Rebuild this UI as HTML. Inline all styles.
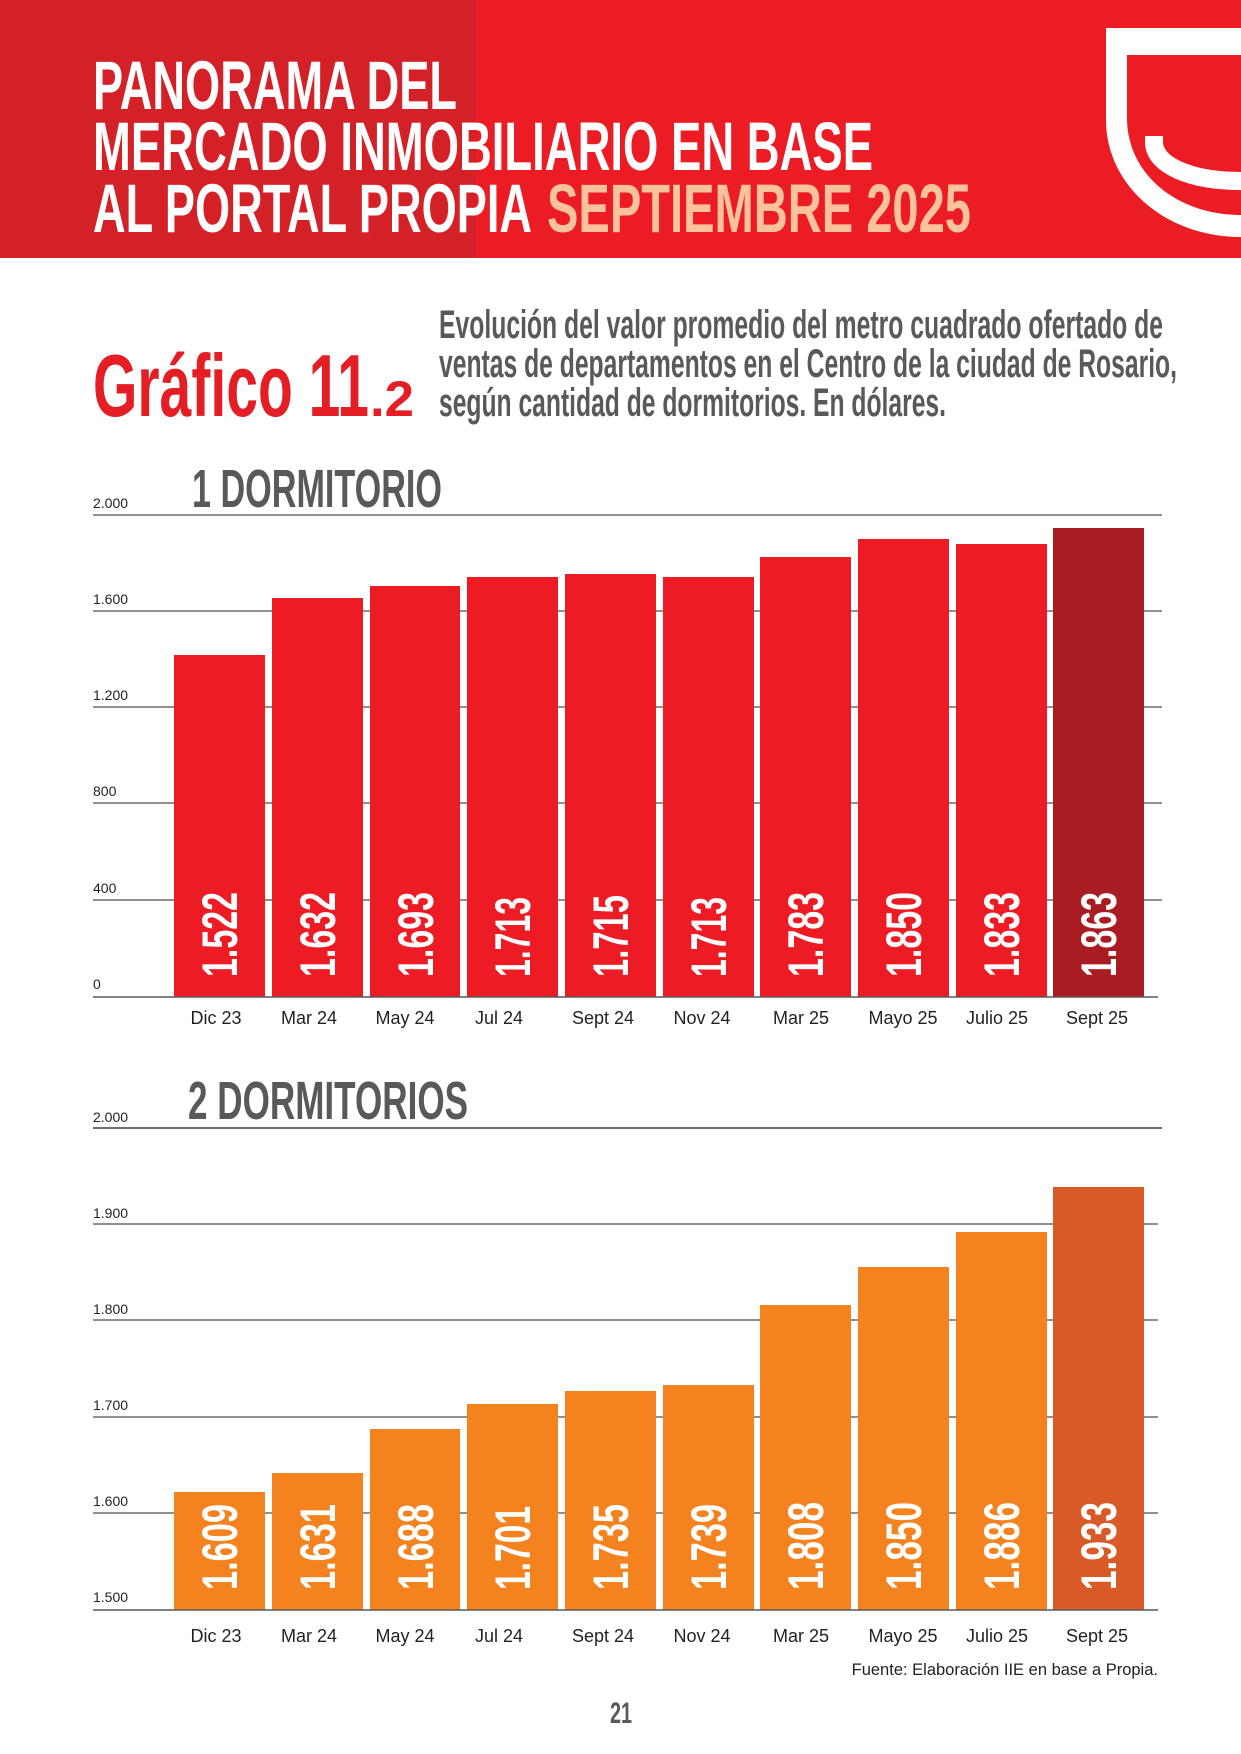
<!DOCTYPE html>
<html><head><meta charset="utf-8"><style>
html,body{margin:0;padding:0;background:#fff;}
svg{display:block;}
.t{font-family:"Liberation Sans",sans-serif;font-weight:bold;}
.ax{font-family:"Liberation Sans",sans-serif;font-size:14px;fill:#231f20;}
.xl{font-family:"Liberation Sans",sans-serif;font-size:18px;fill:#231f20;text-anchor:middle;}
.v{font-family:"Liberation Sans",sans-serif;font-weight:bold;font-size:50px;fill:#fff;}
</style></head><body>
<svg width="1241" height="1754" viewBox="0 0 1241 1754" xmlns="http://www.w3.org/2000/svg">
<rect x="0" y="0" width="1241" height="258" fill="#ec1c24"/>
<rect x="0" y="0" width="476" height="258" fill="#d42027"/>
<!-- logo -->
<path d="M1106 28 L1241 28 L1241 237 C1165 237 1106 185 1106 120 Z" fill="#fff"/>
<path d="M1127 55 L1241 55 L1241 215 C1178 215 1127 175 1127 118 Z" fill="#ec1c24"/>
<path d="M1154 136 L1154 142 C1154 165 1190 181 1241 181" fill="none" stroke="#fff" stroke-width="18"/>
<!-- title -->
<text class="t" x="93" y="109" font-size="69" fill="#fff" textLength="364" lengthAdjust="spacingAndGlyphs">PANORAMA DEL</text>
<text class="t" x="93" y="170" font-size="69" fill="#fff" textLength="780" lengthAdjust="spacingAndGlyphs">MERCADO INMOBILIARIO EN BASE</text>
<text class="t" x="93" y="232" font-size="69" fill="#fff" textLength="439" lengthAdjust="spacingAndGlyphs">AL PORTAL PROPIA</text>
<text class="t" x="547" y="232" font-size="69" fill="#fbc29c" textLength="424" lengthAdjust="spacingAndGlyphs">SEPTIEMBRE 2025</text>
<!-- grafico -->
<text class="t" x="93" y="416" font-size="88" fill="#e31e24" textLength="276" lengthAdjust="spacingAndGlyphs">Gráfico 11</text>
<text class="t" x="370" y="416" font-size="50" fill="#e31e24" textLength="44" lengthAdjust="spacingAndGlyphs">.2</text>
<text class="t" x="439" y="338" font-size="40" fill="#58595b" textLength="724" lengthAdjust="spacingAndGlyphs">Evolución del valor promedio del metro cuadrado ofertado de</text>
<text class="t" x="439" y="377" font-size="40" fill="#58595b" textLength="738" lengthAdjust="spacingAndGlyphs">ventas de departamentos en el Centro de la ciudad de Rosario,</text>
<text class="t" x="439" y="416" font-size="40" fill="#58595b" textLength="507" lengthAdjust="spacingAndGlyphs">según cantidad de dormitorios. En dólares.</text>

<!-- chart 1 -->
<text class="t" x="192" y="507" font-size="54" fill="#58595b" textLength="250" lengthAdjust="spacingAndGlyphs">1 DORMITORIO</text>
<g stroke="#231f20" stroke-width="1">
<line x1="93" y1="515" x2="1162" y2="515"/>
<line x1="93" y1="611" x2="1162" y2="611"/>
<line x1="93" y1="707" x2="1162" y2="707"/>
<line x1="93" y1="803" x2="1162" y2="803"/>
<line x1="93" y1="900" x2="1162" y2="900"/>
</g>
<text class="ax" x="93" y="508">2.000</text>
<text class="ax" x="93" y="604">1.600</text>
<text class="ax" x="93" y="700">1.200</text>
<text class="ax" x="93" y="796">800</text>
<text class="ax" x="93" y="893">400</text>
<text class="ax" x="93" y="989">0</text>
<g fill="#ed1c24">
<rect x="174" y="655" width="91" height="342"/>
<rect x="272" y="598" width="91" height="399"/>
<rect x="370" y="586" width="90" height="411"/>
<rect x="467" y="577" width="91" height="420"/>
<rect x="565" y="574" width="91" height="423"/>
<rect x="663" y="577" width="91" height="420"/>
<rect x="760" y="557" width="91" height="440"/>
<rect x="858" y="539" width="91" height="458"/>
<rect x="956" y="544" width="91" height="453"/>
</g>
<rect x="1053" y="528" width="91" height="469" fill="#a91d22"/>
<line x1="93" y1="997" x2="1158" y2="997" stroke="#58595b" stroke-width="1.5"/>
<g>
<text class="v" transform="translate(237,977) rotate(-90)" textLength="85" lengthAdjust="spacingAndGlyphs">1.522</text>
<text class="v" transform="translate(335,977) rotate(-90)" textLength="85" lengthAdjust="spacingAndGlyphs">1.632</text>
<text class="v" transform="translate(433,977) rotate(-90)" textLength="85" lengthAdjust="spacingAndGlyphs">1.693</text>
<text class="v" transform="translate(530,977) rotate(-90)" textLength="80" lengthAdjust="spacingAndGlyphs">1.713</text>
<text class="v" transform="translate(628,977) rotate(-90)" textLength="82" lengthAdjust="spacingAndGlyphs">1.715</text>
<text class="v" transform="translate(726,977) rotate(-90)" textLength="80" lengthAdjust="spacingAndGlyphs">1.713</text>
<text class="v" transform="translate(823,977) rotate(-90)" textLength="85" lengthAdjust="spacingAndGlyphs">1.783</text>
<text class="v" transform="translate(921,977) rotate(-90)" textLength="85" lengthAdjust="spacingAndGlyphs">1.850</text>
<text class="v" transform="translate(1019,977) rotate(-90)" textLength="85" lengthAdjust="spacingAndGlyphs">1.833</text>
<text class="v" transform="translate(1116,977) rotate(-90)" textLength="85" lengthAdjust="spacingAndGlyphs">1.863</text>
</g>
<text class="xl" x="216" y="1024">Dic 23</text>
<text class="xl" x="309" y="1024">Mar 24</text>
<text class="xl" x="405" y="1024">May 24</text>
<text class="xl" x="499" y="1024">Jul 24</text>
<text class="xl" x="603" y="1024">Sept 24</text>
<text class="xl" x="702" y="1024">Nov 24</text>
<text class="xl" x="801" y="1024">Mar 25</text>
<text class="xl" x="903" y="1024">Mayo 25</text>
<text class="xl" x="997" y="1024">Julio 25</text>
<text class="xl" x="1097" y="1024">Sept 25</text>

<!-- chart 2 -->
<text class="t" x="188" y="1119" font-size="54" fill="#58595b" textLength="280" lengthAdjust="spacingAndGlyphs">2 DORMITORIOS</text>
<line x1="93" y1="1128" x2="1162" y2="1128" stroke="#6d6e71" stroke-width="2"/>
<g stroke="#231f20" stroke-width="1">
<line x1="93" y1="1224" x2="1158" y2="1224"/>
<line x1="93" y1="1320" x2="1158" y2="1320"/>
<line x1="93" y1="1417" x2="1158" y2="1417"/>
<line x1="93" y1="1513" x2="1158" y2="1513"/>
</g>
<text class="ax" x="93" y="1122">2.000</text>
<text class="ax" x="93" y="1218">1.900</text>
<text class="ax" x="93" y="1314">1.800</text>
<text class="ax" x="93" y="1410">1.700</text>
<text class="ax" x="93" y="1506">1.600</text>
<text class="ax" x="93" y="1602">1.500</text>
<g fill="#f4821f">
<rect x="174" y="1492" width="91" height="118"/>
<rect x="272" y="1473" width="91" height="137"/>
<rect x="370" y="1429" width="90" height="181"/>
<rect x="467" y="1404" width="91" height="206"/>
<rect x="565" y="1391" width="91" height="219"/>
<rect x="663" y="1385" width="91" height="225"/>
<rect x="760" y="1305" width="91" height="305"/>
<rect x="858" y="1267" width="91" height="343"/>
<rect x="956" y="1232" width="91" height="378"/>
</g>
<rect x="1053" y="1187" width="91" height="423" fill="#d85a27"/>
<line x1="93" y1="1610" x2="1158" y2="1610" stroke="#58595b" stroke-width="1.5"/>
<g>
<text class="v" transform="translate(237,1590) rotate(-90)" textLength="86" lengthAdjust="spacingAndGlyphs">1.609</text>
<text class="v" transform="translate(335,1590) rotate(-90)" textLength="86" lengthAdjust="spacingAndGlyphs">1.631</text>
<text class="v" transform="translate(433,1590) rotate(-90)" textLength="86" lengthAdjust="spacingAndGlyphs">1.688</text>
<text class="v" transform="translate(530,1590) rotate(-90)" textLength="84" lengthAdjust="spacingAndGlyphs">1.701</text>
<text class="v" transform="translate(628,1590) rotate(-90)" textLength="86" lengthAdjust="spacingAndGlyphs">1.735</text>
<text class="v" transform="translate(726,1590) rotate(-90)" textLength="86" lengthAdjust="spacingAndGlyphs">1.739</text>
<text class="v" transform="translate(823,1590) rotate(-90)" textLength="88" lengthAdjust="spacingAndGlyphs">1.808</text>
<text class="v" transform="translate(921,1590) rotate(-90)" textLength="88" lengthAdjust="spacingAndGlyphs">1.850</text>
<text class="v" transform="translate(1019,1590) rotate(-90)" textLength="88" lengthAdjust="spacingAndGlyphs">1.886</text>
<text class="v" transform="translate(1116,1590) rotate(-90)" textLength="88" lengthAdjust="spacingAndGlyphs">1.933</text>
</g>
<text class="xl" x="216" y="1642">Dic 23</text>
<text class="xl" x="309" y="1642">Mar 24</text>
<text class="xl" x="405" y="1642">May 24</text>
<text class="xl" x="499" y="1642">Jul 24</text>
<text class="xl" x="603" y="1642">Sept 24</text>
<text class="xl" x="702" y="1642">Nov 24</text>
<text class="xl" x="801" y="1642">Mar 25</text>
<text class="xl" x="903" y="1642">Mayo 25</text>
<text class="xl" x="997" y="1642">Julio 25</text>
<text class="xl" x="1097" y="1642">Sept 25</text>

<text x="1158" y="1675" font-family="Liberation Sans, sans-serif" font-size="16.5" fill="#231f20" text-anchor="end">Fuente: Elaboración IIE en base a Propia.</text>
<text class="t" x="621" y="1723" font-size="30" fill="#58595b" text-anchor="middle" textLength="22" lengthAdjust="spacingAndGlyphs">21</text>
</svg>
</body></html>
